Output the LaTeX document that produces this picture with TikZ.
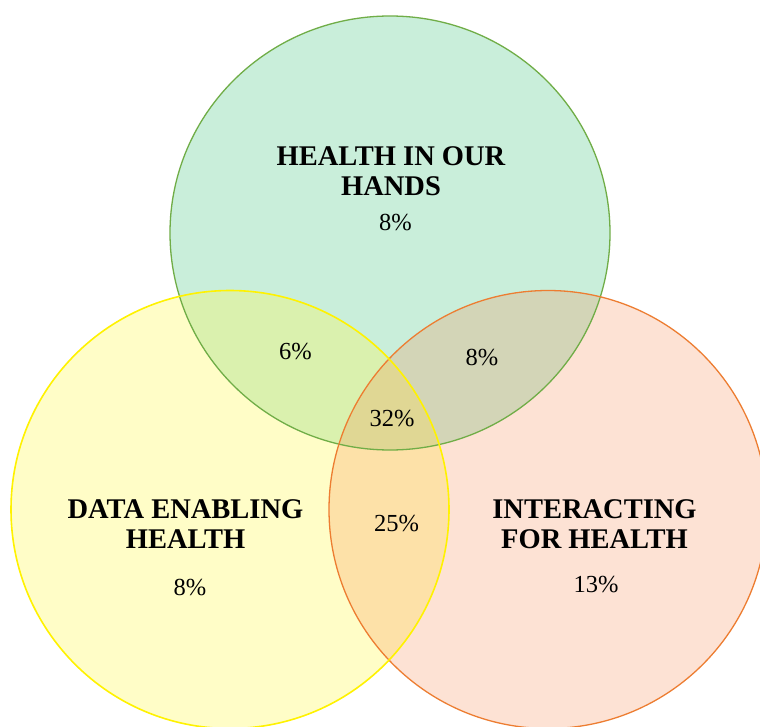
\documentclass[tikz,border=0pt]{standalone}
\usepackage{fontspec}
\setmainfont{Liberation Serif}
\definecolor{gfill}{RGB}{201,238,218}
\definecolor{gline}{RGB}{112,173,71}
\definecolor{ybase}{RGB}{255,249,83}
\definecolor{yline}{RGB}{255,242,0}
\definecolor{obase}{RGB}{250,122,55}
\definecolor{oline}{RGB}{237,125,49}
\tikzset{
  title/.style={font=\fontsize{28.5}{30}\selectfont\bfseries, align=center, inner sep=0pt},
  pct/.style={font=\fontsize{24.5}{26}\selectfont, inner sep=0pt}
}
\begin{document}
\begin{tikzpicture}[x=1pt,y=-1pt]
\useasboundingbox (0,0) rectangle (760,727);
\fill[white] (0,0) rectangle (760,727);
\fill[gfill] (390,233) ellipse [x radius=220, y radius=217];
\fill[ybase, fill opacity=0.32] (230,509.5) circle [radius=219];
\fill[obase, fill opacity=0.21] (548,509.5) circle [radius=219];
\draw[gline, line width=1.3pt] (390,233) ellipse [x radius=220, y radius=217];
\draw[oline, line width=1.3pt] (548,509.5) circle [radius=219];
\draw[yline, line width=1.6pt] (230,509.5) circle [radius=219];
\node[title] (t1) at (391,171.5) {HEALTH IN OUR\\HANDS};
\node[pct] (p1) at (395.5,222.5) {8\%};
\node[title] (t2) at (185.5,524) {DATA ENABLING\\HEALTH};
\node[pct] (p2) at (190,587.5) {8\%};
\node[title] (t3) at (594.5,524) {INTERACTING\\FOR HEALTH};
\node[pct] (p3) at (596,585) {13\%};
\node[pct] (p4) at (295.5,351.5) {6\%};
\node[pct] (p5) at (482,357.5) {8\%};
\node[pct] (p6) at (392,419) {32\%};
\node[pct] (p7) at (396.5,524) {25\%};
\end{tikzpicture}
\end{document}
